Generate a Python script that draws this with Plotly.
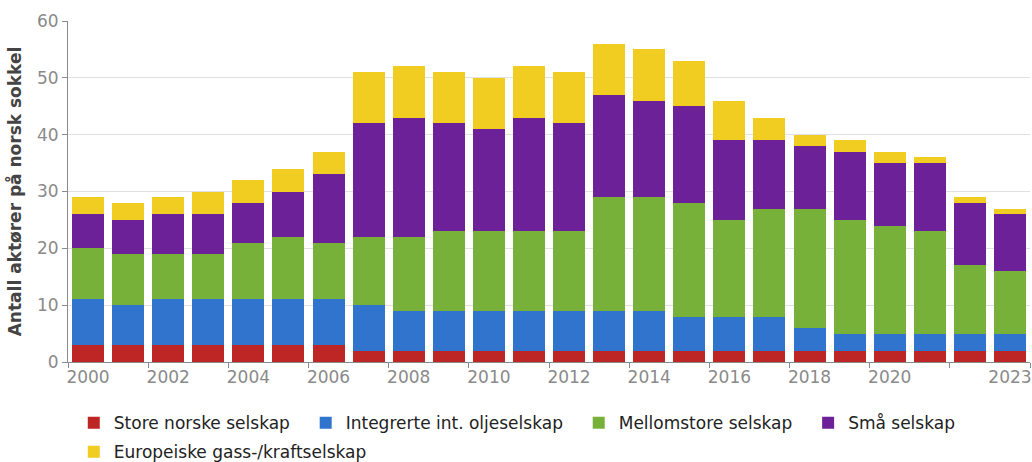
import plotly.graph_objects as go

years = list(range(2000, 2024))

store_norske = [3, 3, 3, 3, 3, 3, 3, 2, 2, 2, 2, 2, 2, 2, 2, 2, 2, 2, 2, 2, 2, 2, 2, 2]
integrerte = [8, 7, 8, 8, 8, 8, 8, 8, 7, 7, 7, 7, 7, 7, 7, 6, 6, 6, 4, 3, 3, 3, 3, 3]
mellomstore = [9, 9, 8, 8, 10, 11, 10, 12, 13, 14, 14, 14, 14, 20, 20, 20, 17, 19, 21, 20, 19, 18, 12, 11]
smaa = [6, 6, 7, 7, 7, 8, 12, 20, 21, 19, 18, 20, 19, 18, 17, 17, 14, 12, 11, 12, 11, 12, 11, 10]
europeiske = [3, 3, 3, 4, 4, 4, 4, 9, 9, 9, 9, 9, 9, 9, 9, 8, 7, 4, 2, 2, 2, 1, 1, 1]

series = [
    ('Store norske selskap', store_norske, '#BE2626', 'legend'),
    ('Integrerte int. oljeselskap', integrerte, '#3174CD', 'legend'),
    ('Mellomstore selskap', mellomstore, '#78B139', 'legend'),
    ('Små selskap', smaa, '#6D2199', 'legend'),
    ('Europeiske gass-/kraftselskap', europeiske, '#F0CD20', 'legend2'),
]

tick_years = [2000, 2002, 2004, 2006, 2008, 2010, 2012, 2014, 2016, 2018, 2020, 2023]
edge_ticks = [y - 0.5 for y in range(2000, 2024, 2)] + [2023.5]

fig = go.Figure()

for name, values, color, leg in series:
    fig.add_trace(go.Bar(
        x=years,
        y=values,
        # a little padding after each name to widen the legend entries
        name=name + '\u00a0\u00a0',
        legend=leg,
        marker=dict(color=color, line=dict(width=0)),
    ))

# one row for the first four entries, the last one wraps below
legend_style = dict(
    orientation='h',
    x=0.006,
    xanchor='left',
    yanchor='top',
    traceorder='normal',
    font=dict(size=17, color='#222'),
)

fig.update_layout(
    barmode='stack',
    bargap=0.2,
    width=1032,
    height=462,
    margin=dict(l=68, r=2, t=21, b=100, autoexpand=False),
    plot_bgcolor='white',
    paper_bgcolor='white',
    font=dict(family='DejaVu Sans', color='#222'),
    legend=dict(legend_style, y=-0.127),
    legend2=dict(legend_style, y=-0.212),
)

fig.update_xaxes(
    range=[1999.5, 2023.5],
    tickmode='array',
    tickvals=tick_years,
    ticktext=[str(y) for y in tick_years],
    ticks='',
    tickfont=dict(size=17, color='#8a8a8a'),
    showline=True,
    linecolor='#8a8a8a',
    showgrid=False,
    minor=dict(tickmode='array', tickvals=edge_ticks, ticks='outside',
               ticklen=5, tickcolor='#8a8a8a', showgrid=False),
)

fig.update_yaxes(
    range=[0, 60],
    tickvals=[0, 10, 20, 30, 40, 50, 60],
    ticks='outside',
    ticklen=5,
    tickcolor='#8a8a8a',
    tickfont=dict(size=17, color='#8a8a8a'),
    showline=True,
    linecolor='#8a8a8a',
    gridcolor='#e0e0e0',
    zeroline=False,
    title=dict(text='<b>Antall aktører på norsk sokkel</b>',
               font=dict(size=17, color='#444'), standoff=11),
)

# drop the default body margin so the figure sits at the top-left corner
fig.write_html("out.html", config={'displayModeBar': False},
               post_script="document.body.style.margin='0';")
